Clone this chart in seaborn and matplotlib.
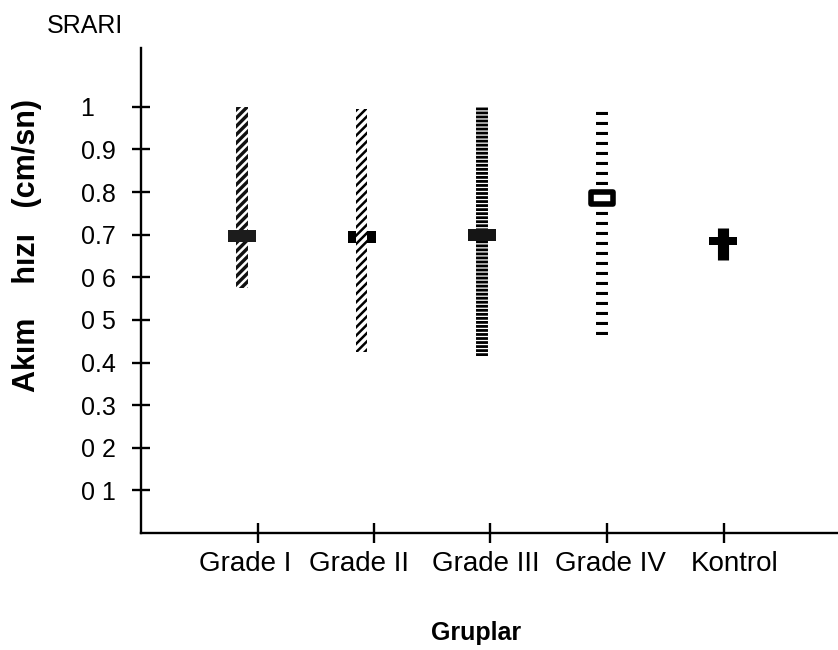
import numpy as np
import matplotlib
matplotlib.use("Agg")
import matplotlib.pyplot as plt
from matplotlib.path import Path
import seaborn as sns

# ---- data ----
categories = ["Grade I", "Grade II", "Grade III", "Grade IV", "Kontrol"]
range_low = [0.575, 0.425, 0.415, 0.465, 0.64]
range_high = [1.0, 0.995, 1.0, 0.993, 0.716]
mean_values = [0.697, 0.694, 0.700, 0.787, 0.685]
y_ticks = [0.1, 0.2, 0.3, 0.4, 0.5, 0.6, 0.7, 0.8, 0.9, 1.0]
y_tick_labels = ["0 1", "0 2", "0.3", "0.4", "0 5", "0 6", "0.7", "0.8", "0.9", "1"]

sns.set_style("white")
plt.rcParams["font.family"] = ["Liberation Sans", "DejaVu Sans"]
plt.rcParams["text.color"] = "black"
plt.rcParams["xtick.color"] = "black"
plt.rcParams["ytick.color"] = "black"
plt.rcParams["axes.edgecolor"] = "black"
plt.rcParams["hatch.linewidth"] = 1.8
plt.rcParams["lines.scale_dashes"] = False

W, H = 838, 650
fig = plt.figure(figsize=(W / 100, H / 100), dpi=100)
ax = fig.add_axes([141 / W, 117 / H, 697 / W, 485 / H])

pos = np.arange(1, len(categories) + 1)
px = 1 / 120.3  # data units per pixel along x

def rect_marker(ratio):
    return Path([(-1, -ratio), (1, -ratio), (1, ratio), (-1, ratio), (-1, -ratio)],
                closed=True)

# Grade I : dark rope-like bar (white diagonal gaps on black), dark mean block
ax.bar(pos[0], range_high[0] - range_low[0], bottom=range_low[0], width=12 * px,
       color="#111111", edgecolor="white", hatch="////", linewidth=0, zorder=3)
sns.scatterplot(x=[pos[0]], y=[mean_values[0]], marker=rect_marker(0.46), s=406,
                color="#1c1c1c", linewidth=0, zorder=4, ax=ax, legend=False)

# Grade II : diagonal hatch bar drawn over black mean block
sns.scatterplot(x=[pos[1]], y=[mean_values[1]], marker=rect_marker(0.46), s=406,
                color="black", linewidth=0, zorder=2, ax=ax, legend=False)
ax.bar(pos[1], range_high[1] - range_low[1], bottom=range_low[1], width=11 * px,
       color="white", edgecolor="black", hatch="////", linewidth=0, zorder=3)

# Grade III : dense horizontal lines
ax.vlines(pos[2], range_low[2], range_high[2], colors="black", linewidth=8.6,
          linestyles=[(0, (2.0, 0.9))], capstyle="butt", zorder=3)
sns.scatterplot(x=[pos[2]], y=[mean_values[2]], marker=rect_marker(0.43), s=406,
                color="#151515", linewidth=0, zorder=4, ax=ax, legend=False)

# Grade IV : spaced horizontal dashes, hollow mean box
ax.vlines(pos[3], range_low[3], range_high[3], colors="black", linewidth=8.6,
          linestyles=[(0, (2.2, 5.0))], capstyle="butt", zorder=3)
sns.scatterplot(x=[pos[3]], y=[mean_values[3]], marker=rect_marker(0.5), s=260,
                color="white", edgecolor="black", linewidth=4.0, zorder=4, ax=ax,
                legend=False)

# Kontrol : solid cross
ax.vlines(pos[4], range_low[4], range_high[4], colors="black", linewidth=8.0,
          capstyle="butt", zorder=3)
sns.scatterplot(x=[pos[4]], y=[mean_values[4]], marker=rect_marker(0.29), s=406,
                color="black", linewidth=0, zorder=4, ax=ax, legend=False)

# ---- axes ----
ax.set_xlim(0.164, 5.958)
ax.set_ylim(0, 1.138)
for side in ["top", "right"]:
    ax.spines[side].set_visible(False)
for side in ["left", "bottom"]:
    ax.spines[side].set_linewidth(1.7)
    ax.spines[side].set_color("black")

ax.set_xticks([1.136, 2.10, 3.065, 4.037, 5.01])
ax.set_xticks([1.03, 1.98, 3.03, 4.07, 5.10], minor=True)
ax.set_xticklabels(categories, minor=True)
ax.tick_params(axis="x", which="major", direction="inout", length=14, width=1.7,
               labelbottom=False, bottom=True)
ax.tick_params(axis="x", which="minor", length=0, pad=13, labelsize=20,
               bottom=True)

ax.set_yticks(y_ticks)
ax.set_yticklabels(y_tick_labels)
ax.tick_params(axis="y", which="major", direction="inout", length=13, width=1.7,
               pad=37, labelsize=18, left=True)
for lbl in ax.get_yticklabels():
    lbl.set_horizontalalignment("left")

ax.set_xlabel("")
ax.set_ylabel("")

fig.text(47 / W, 1 - 33 / H, "SRARI", fontsize=18, ha="left", va="baseline")
fig.text(27 / W, 1 - 246 / H, "Akım    hızı   (cm/sn)", rotation=90, fontsize=22,
         fontweight="bold", ha="center", va="center")
fig.text(476 / W, 1 - 633 / H, "Gruplar", fontsize=18, fontweight="bold",
         ha="center", va="center")

fig.savefig("out.png", dpi=100)
